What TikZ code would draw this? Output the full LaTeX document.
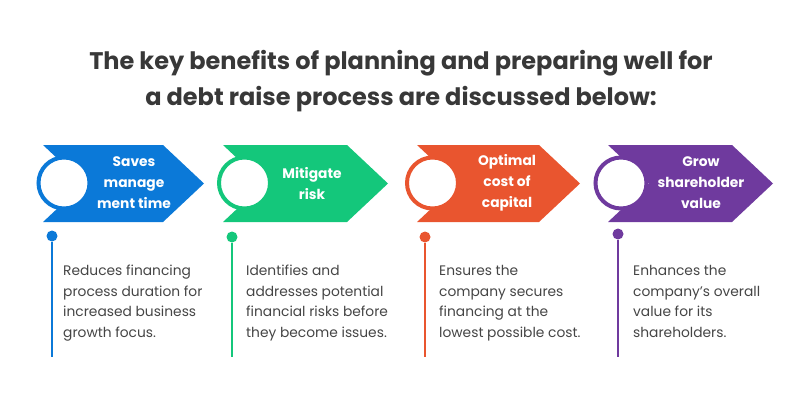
\documentclass[tikz,border=0pt]{standalone}
\usepackage{fontspec}
\setmainfont{Poppins}
\definecolor{cblue}{HTML}{0B79D8}
\definecolor{cgreen}{HTML}{14C77B}
\definecolor{corange}{HTML}{E9552F}
\definecolor{cpurple}{HTML}{6F3A9E}
\definecolor{ctitle}{HTML}{383838}
\definecolor{cbody}{HTML}{454545}
\begin{document}
\begin{tikzpicture}[x=1pt,y=-1pt,
  titletext/.style={font=\fontsize{24}{36}\selectfont\bfseries, text=ctitle, align=center},
  chevtext/.style={font=\fontsize{13.8}{21}\selectfont\bfseries, text=white, align=center},
  bodytext/.style={font=\fontsize{13.8}{20.6}\selectfont, text=cbody, align=left, anchor=north west, inner sep=0pt},
  ring/.style={fill=white, line width=4pt},
  dotmark/.style={circle, inner sep=0pt, minimum size=11pt},
  stem/.style={line width=2pt}]
\useasboundingbox (0,0) rectangle (812,400);
\node[titletext] (title) at (401,81) {The key benefits of planning and preparing well for\\a debt raise process are discussed below:};
% chevrons: left, tip, color, circle centre
\foreach \L/\T/\C/\cx/\n in {43/204/cblue/64/a, 223/388/cgreen/244.5/b, 417/580/corange/432.5/c, 608/773/cpurple/621/d}{
  \fill[\C] (\L,145) -- (\T-41,145) -- (\T,183.5) -- (\T-41,222) -- (\L,222) -- (\L+41,183.5) -- cycle;
  \node[circle, draw=\C, ring, minimum size=51pt, inner sep=0pt] (circ\n) at (\cx,183) {};
}
\node[chevtext] (ta) at (134,183) {Saves\\manage\\ment time};
\node[chevtext] (tb) at (312,184) {Mitigate\\risk};
\node[chevtext] (tc) at (507,183) {Optimal\\cost of\\capital};
\node[chevtext] (td) at (701,183) {Grow\\shareholder\\value};
% dots and stems
\foreach \x/\y/\C/\n in {52/236/cblue/a, 232/237/cgreen/b, 425/237/corange/c, 618/234/cpurple/d}{
  \node[dotmark, fill=\C] (dot\n) at (\x,\y) {};
  \coordinate (end\n) at (\x,357);
  \draw[stem, \C] (dot\n) -- (end\n);
}
\node[bodytext] (ba) at (63,265) {Reduces financing\\process duration for\\increased business\\growth focus.};
\node[bodytext] (bb) at (246,265) {Identifies and\\addresses potential\\financial risks before\\they become issues.};
\node[bodytext] (bc) at (439,265) {Ensures the\\company secures\\financing at the\\lowest possible cost.};
\node[bodytext] (bd) at (633,265) {Enhances the\\company's overall\\value for its\\shareholders.};
\end{tikzpicture}
\end{document}
